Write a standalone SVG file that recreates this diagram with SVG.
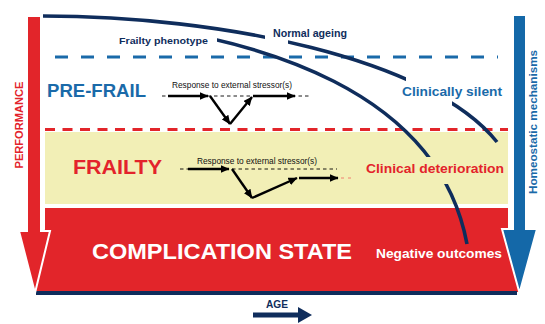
<svg xmlns="http://www.w3.org/2000/svg" width="545" height="324" viewBox="0 0 545 324">
<style>
.t{font-family:"Liberation Sans",Arial,sans-serif;font-weight:bold}
.r{font-family:"Liberation Sans",Arial,sans-serif;fill:#111}
.navy{fill:#0f2d5c}
.blue{fill:#1a6aa9}
.red{fill:#e3232b}
.white{fill:#fff}
.curve{fill:none;stroke:#0f2d5c;stroke-width:3.6;stroke-linecap:butt}
.thick{stroke:#000;stroke-width:2.4;fill:none}
.base{stroke:#000;stroke-width:0.9;stroke-dasharray:3.5 3;fill:none}
</style>
<defs>
<marker id="ah" markerUnits="userSpaceOnUse" markerWidth="10" markerHeight="8" refX="8.5" refY="4" orient="auto">
<path d="M0,0 L9,4 L0,8 Z" fill="#000"/>
</marker>
<mask id="mNormal" maskUnits="userSpaceOnUse" x="0" y="0" width="545" height="324">
<rect x="0" y="0" width="545" height="324" fill="#fff"/>
<rect x="265" y="26" width="23" height="24" fill="#000"/>
<rect x="406" y="68" width="46" height="42" fill="#000"/>
</mask>
<mask id="mFrail" maskUnits="userSpaceOnUse" x="0" y="0" width="545" height="324">
<rect x="0" y="0" width="545" height="324" fill="#fff"/>
<rect x="0" y="0" width="217" height="60" fill="#000"/>
<rect x="360" y="157" width="145" height="27" fill="#000"/>
</mask>
</defs>
<rect width="545" height="324" fill="#fff"/>

<g id="frailty-band">
<rect x="45" y="132" width="463" height="72" fill="#f2efb6"/>
</g>
<g id="complication-box">
<path d="M45,208 H508 V229 L520,292 H34 L45,229 Z" fill="#e2252a"/>
<rect x="36" y="291" width="481" height="4" fill="#0f2d5c"/>
</g>

<g id="thresholds">
<line x1="55" y1="57" x2="498" y2="57" stroke="#1a6aa9" stroke-width="3" stroke-dasharray="13 13"/>
<line x1="45" y1="129.5" x2="508" y2="129.5" stroke="#e2252a" stroke-width="3" stroke-dasharray="10 7.5"/>
</g>

<g id="prefrail-response">
<line class="base" x1="162" y1="96" x2="310" y2="96"/>
<line class="thick" x1="168" y1="96" x2="208" y2="96" marker-end="url(#ah)"/>
<line class="thick" x1="210" y1="96" x2="230" y2="124" marker-end="url(#ah)"/>
<line class="thick" x1="230" y1="124" x2="252" y2="97" marker-end="url(#ah)"/>
<line class="thick" x1="253" y1="96" x2="295" y2="96" marker-end="url(#ah)"/>
<text class="r" x="172" y="88" font-size="9" textLength="120" lengthAdjust="spacingAndGlyphs">Response to external stressor(s)</text>
</g>

<g id="frailty-response">
<line class="base" x1="180" y1="169" x2="337" y2="169"/>
<line class="thick" x1="188" y1="169" x2="229" y2="169" marker-end="url(#ah)"/>
<line class="thick" x1="232" y1="169" x2="252" y2="198" marker-end="url(#ah)"/>
<line class="thick" x1="252" y1="198" x2="297" y2="178" marker-end="url(#ah)"/>
<line class="thick" x1="299" y1="178" x2="338" y2="178" marker-end="url(#ah)"/>
<line x1="341" y1="178" x2="351" y2="178" stroke="#f08070" stroke-width="1" stroke-dasharray="3 4"/>
<text class="r" x="197" y="164" font-size="9" textLength="120" lengthAdjust="spacingAndGlyphs">Response to external stressor(s)</text>
</g>

<g id="connectors">
<path class="curve" mask="url(#mNormal)" d="M43,16 C220,16 430,58 497,142"/>
<path class="curve" mask="url(#mFrail)" d="M43,16 C280,30 440,100 467,244"/>
</g>

<g id="labels">
<text class="t navy" x="119" y="43.5" font-size="9.5" textLength="89" lengthAdjust="spacingAndGlyphs">Frailty phenotype</text>
<text class="t navy" x="273" y="36.5" font-size="10" textLength="74" lengthAdjust="spacingAndGlyphs">Normal ageing</text>
<text class="t blue" x="47" y="96.5" font-size="18" textLength="99" lengthAdjust="spacingAndGlyphs">PRE-FRAIL</text>
<text class="t blue" x="402" y="95.5" font-size="13" textLength="100" lengthAdjust="spacingAndGlyphs">Clinically silent</text>
<text class="t red" x="73" y="173.5" font-size="21" textLength="89" lengthAdjust="spacingAndGlyphs">FRAILTY</text>
<text class="t red" x="366" y="173" font-size="13.5" textLength="138" lengthAdjust="spacingAndGlyphs">Clinical deterioration</text>
<text class="t white" x="92" y="259" font-size="22" textLength="260" lengthAdjust="spacingAndGlyphs">COMPLICATION STATE</text>
<text class="t white" x="376" y="258" font-size="13.5" textLength="126" lengthAdjust="spacingAndGlyphs">Negative outcomes</text>
</g>

<g id="performance-arrow">
<path d="M27,16 H41 V231 H50 L35,293 L19,231 H27 Z" fill="#e2252a" stroke="#fff" stroke-width="2" stroke-linejoin="miter"/>
<text class="t red" transform="translate(23,125) rotate(-90)" x="0" y="0" font-size="11" text-anchor="middle" textLength="87" lengthAdjust="spacingAndGlyphs">PERFORMANCE</text>
</g>

<g id="homeostatic-arrow">
<path d="M513,15 H526 V229 H537 L519.5,293 L502,229 H513 Z" fill="#1468a8" stroke="#fff" stroke-width="2" stroke-linejoin="miter"/>
<text class="t blue" transform="translate(537,122) rotate(-90)" x="0" y="0" font-size="11.5" text-anchor="middle" textLength="144" lengthAdjust="spacingAndGlyphs">Homeostatic mechanisms</text>
</g>

<g id="age-arrow">
<path d="M253,312.5 H298 V307 L312,315 L298,323 V317.5 H253 Z" fill="#0f2d5c"/>
<text class="t navy" x="266" y="307.5" font-size="10" textLength="22" lengthAdjust="spacingAndGlyphs">AGE</text>
</g>
</svg>
